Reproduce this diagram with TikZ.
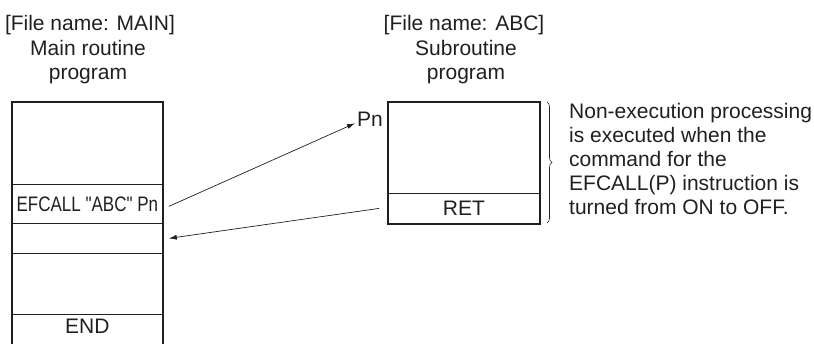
\documentclass[tikz,border=0pt]{standalone}
\usepackage{fontspec}
\setmainfont{Liberation Sans}[Ligatures=TeXOff]
\usetikzlibrary{arrows.meta,decorations.pathreplacing}
\definecolor{ink}{RGB}{35,31,32}

\begin{document}
\begin{tikzpicture}[x=1pt,y=-1pt,
            row/.style={draw=ink, line width=0.8pt, anchor=north west, inner sep=0pt, minimum width=150pt},
            frame/.style={draw=ink, line width=1.8pt},
            arrow/.style={ink, line width=0.7pt, -{Latex[length=8pt,width=5pt]}},
            caption/.style={anchor=base, align=center},
            font=\fontsize{21}{24}\selectfont, text=ink
         ]
      \useasboundingbox (0,0) rectangle (814,343);
      \clip (0,0) rectangle (814,343);

      % main routine (base = last line)
      \node[caption] (mainfile) at (90,30) {[File name: MAIN]};
      \node[caption] (maintitle) at (88,79) {Main routine\\program};
      \node[row, minimum height=82pt] (m1) at (12,102) {};
      \node[row, minimum height=39pt] (m2) at (12,184) {\scalebox{0.81}[1]{EFCALL "ABC" Pn}};
      \node[row, minimum height=30pt] (m3) at (12,223) {};
      \node[row, minimum height=61pt] (m4) at (12,253) {};
      \node[row, text height=19pt, text depth=27pt] (m5) at (12,314) {END};
      \draw[frame] (m1.north west) rectangle (m5.south east);

      % subroutine
      \node[caption] (subfile) at (464,30) {[File name: ABC]};
      \node[caption] (subtitle) at (466,79) {Subroutine\\program};
      \node[row, minimum width=151pt, minimum height=91pt] (s1) at (388,102) {};
      \node[row, minimum width=151pt, minimum height=30pt] (s2) at (388,193) {RET};
      \draw[frame] (s1.north west) rectangle (s2.south east);
      \node[anchor=base west, inner sep=0pt] (pn) at (357,126) {Pn};

      \draw[ink, line width=0.6pt, decorate, decoration={brace, amplitude=5pt}] (547,102) -- (547,223);
      \node[anchor=base west, align=left, inner sep=0pt] (note) at (569,214) {Non-execution processing\\is executed when the\\command for the\\EFCALL(P) instruction is\\turned from ON to OFF.};

      \draw[arrow] ([xshift=6pt,yshift=-2.5pt]m2.east) -- ([xshift=-2pt,yshift=-4.5pt]pn.west);
      \draw[arrow] ([xshift=-9pt]s2.west) -- ([xshift=6pt]m3.east);
   \end{tikzpicture}
\end{document}
